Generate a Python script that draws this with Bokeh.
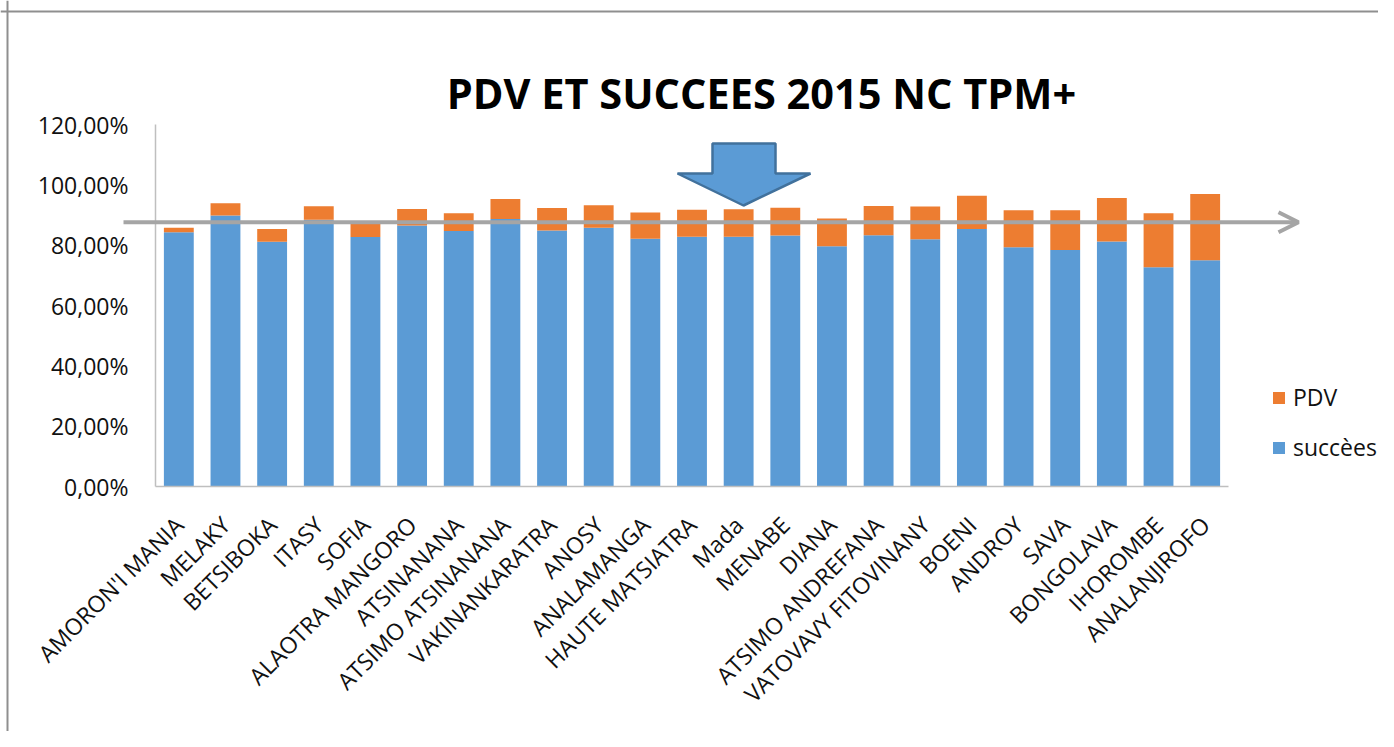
import math
from bokeh.plotting import figure
from bokeh.models import (ColumnDataSource, Range1d, FixedTicker, Span, Label,
                          CustomJSTickFormatter, Legend, LegendItem, Arrow, OpenHead)
from bokeh.embed import file_html
from bokeh.resources import INLINE

# ---------------- data ----------------
regions = ["AMORON'I MANIA", "MELAKY", "BETSIBOKA", "ITASY", "SOFIA",
           "ALAOTRA MANGORO", "ATSINANANA", "ATSIMO ATSINANANA", "VAKINANKARATRA",
           "ANOSY", "ANALAMANGA", "HAUTE MATSIATRA", "Mada", "MENABE", "DIANA",
           "ATSIMO ANDREFANA", "VATOVAVY FITOVINANY", "BOENI", "ANDROY", "SAVA",
           "BONGOLAVA", "IHOROMBE", "ANALANJIROFO"]
succees = [84.3, 89.8, 81.1, 88.4, 82.7, 86.5, 84.7, 88.7, 84.9, 85.8, 82.1, 82.8,
           82.8, 83.2, 79.6, 83.3, 82.0, 85.4, 79.3, 78.4, 81.2, 72.7, 75.0]
pdv = [1.5, 4.1, 4.3, 4.5, 4.8, 5.5, 5.9, 6.6, 7.4, 7.4, 8.7, 8.9,
       9.1, 9.2, 9.2, 9.7, 10.8, 11.0, 12.3, 13.2, 14.4, 17.9, 22.0]
y_ticks = [0, 20, 40, 60, 80, 100, 120]
y_max = 120
series_labels = ["PDV", "succèes"]
reference_level = 87.6
title_text = "PDV ET SUCCEES 2015 NC TPM+"

BLUE = "#5B9BD5"
ORANGE = "#ED7D31"
GREY = "#A5A5A5"
FONT = "Open Sans"

n = len(regions)
xpos = [i + 0.5 for i in range(n)]
src = ColumnDataSource(dict(x=xpos, region=regions, succees=succees, pdv=pdv))

# ---------------- layout (figure pixels) ----------------
FIG_W, FIG_H = 1378, 731
AX_L, AX_R = 155, 1228      # x pixel of category 0 start / category n end
AX_T, AX_B = 124, 486       # y pixel of y_max / 0
x_per = (AX_R - AX_L) / n
y_per = (AX_B - AX_T) / y_max


def px_x(px):
    return (px - AX_L) / x_per


def px_y(py):
    return (AX_B - py) / y_per


p = figure(x_range=Range1d(px_x(0), px_x(FIG_W)),
           y_range=Range1d(px_y(FIG_H), px_y(0)),
           width=FIG_W, height=FIG_H, title=None,
           min_border=0, min_border_left=0, min_border_right=0,
           min_border_top=0, min_border_bottom=0,
           output_backend="svg", toolbar_location=None)

renderers = p.vbar_stack(["succees", "pdv"], x="x", width=0.64,
                         color=[BLUE, ORANGE], line_color=None, source=src)

# chart border (top and left visible)
p.add_layout(Span(location=px_y(11), dimension="width", line_color="#8F8F8F", line_width=2))
p.add_layout(Span(location=px_x(7), dimension="height", line_color="#8F8F8F", line_width=2))

# legend
legend = Legend(items=[LegendItem(label=series_labels[0], renderers=[renderers[1]]),
                       LegendItem(label=series_labels[1], renderers=[renderers[0]])],
                location=(1271, FIG_H - 463))
legend.border_line_color = None
legend.background_fill_alpha = 0
legend.padding = 0
legend.margin = 0
legend.glyph_width = 15
legend.glyph_height = 15
legend.label_standoff = 7
legend.spacing = 18
legend.label_text_font = FONT
legend.label_text_font_size = "23px"
legend.label_text_color = "#111111"
p.add_layout(legend)

# horizontal grey arrow
p.add_layout(Arrow(end=OpenHead(size=20, line_color=GREY, line_width=4),
                   x_start=px_x(123), y_start=reference_level,
                   x_end=px_x(1298), y_end=reference_level,
                   line_color=GREY, line_width=4))

# blue down arrow
bx = [712, 775, 775, 810, 743, 677, 712]
by = [143, 143, 173, 173, 205, 173, 173]
p.patch([px_x(v) for v in bx], [px_y(v) for v in by],
        fill_color=BLUE, line_color="#41719C", line_width=2.5)

# title
p.add_layout(Label(x=px_x(761), y=px_y(92), text=title_text, text_align="center",
                   text_baseline="middle", text_font=FONT, text_font_style="bold",
                   text_font_size="41.5px", text_color="black"))

# axes
p.yaxis.ticker = FixedTicker(ticks=y_ticks)
p.yaxis.formatter = CustomJSTickFormatter(code="return tick.toFixed(2).replace('.', ',') + '%';")
p.yaxis.fixed_location = 0
p.yaxis.bounds = (0, y_max)
p.xaxis.ticker = FixedTicker(ticks=xpos)
p.xaxis.formatter = CustomJSTickFormatter(args=dict(labels=regions),
                                          code="return labels[Math.floor(tick)];")
p.xaxis.fixed_location = 0
p.xaxis.bounds = (0, n)
for ax in (p.xaxis[0], p.yaxis[0]):
    ax.axis_line_color = "#BFBFBF"
    ax.axis_line_width = 1.5
    ax.major_tick_line_color = None
    ax.minor_tick_line_color = None
    ax.major_tick_out = 0
    ax.major_tick_in = 0
    ax.major_label_text_font = FONT
    ax.major_label_text_font_size = "23px"
    ax.major_label_text_color = "#111111"
p.yaxis.major_label_standoff = 27
p.xaxis.major_label_orientation = math.pi / 4
p.xaxis.major_label_standoff = 34

p.xgrid.visible = False
p.ygrid.visible = False
p.outline_line_color = None

open("out.html", "w").write(file_html(p, INLINE))
